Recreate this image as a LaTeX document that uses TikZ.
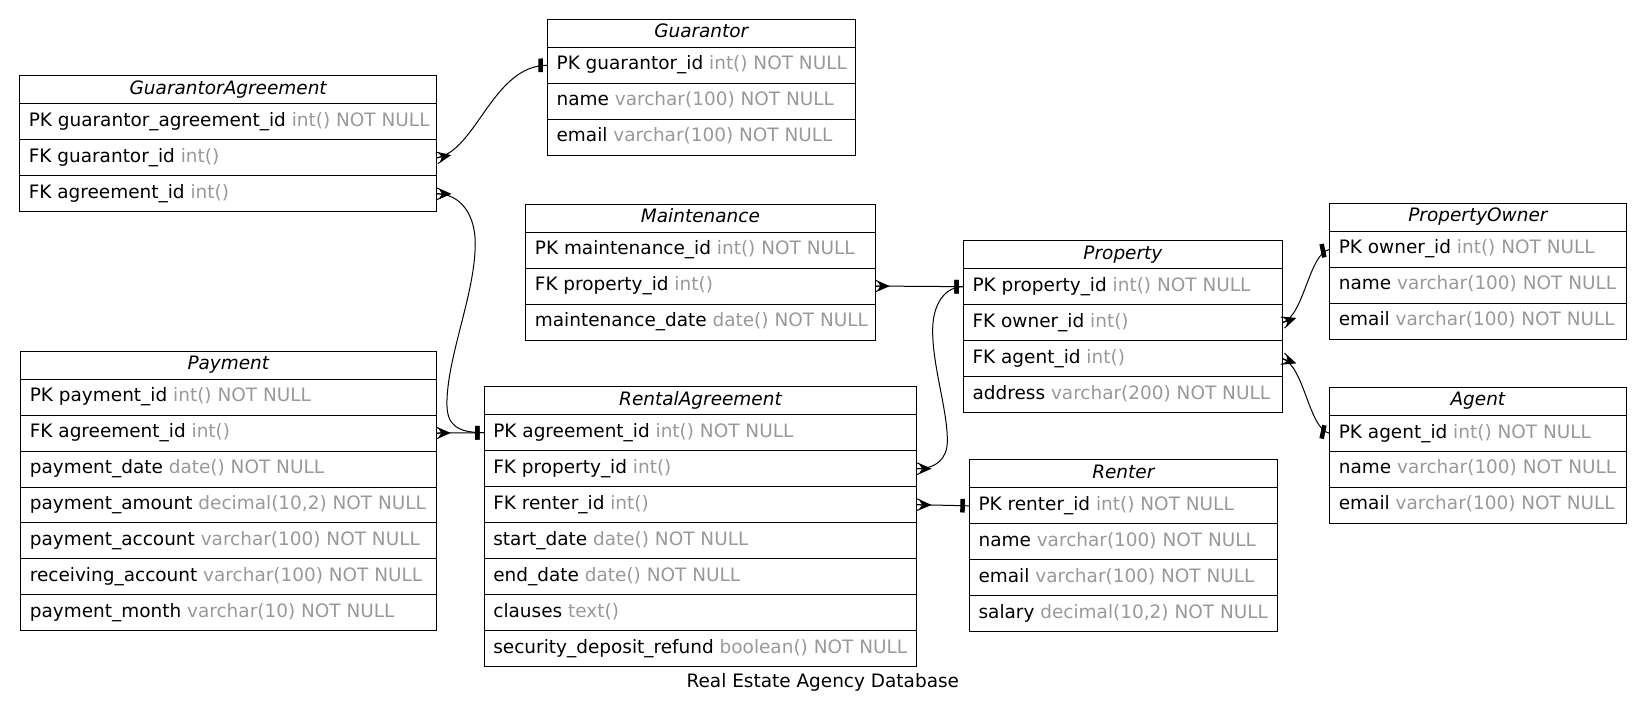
\documentclass[tikz,border=0pt]{standalone}
\usepackage{fontspec}
\setmainfont{DejaVu Sans}
\usetikzlibrary{decorations.markings}
\definecolor{typegray}{RGB}{153,153,153}
\newcommand{\U}{0.7869}
\newcommand{\tg}[1]{\textcolor{typegray}{#1}}
\newcommand{\ehead}[5]{%
  \node[cellbox, minimum width=#4*\U pt, minimum height=26.7*\U pt] (#1) at ({#2+#4/2},{#3+13.35}) {};
  \node[headtext] (#1-t) at ({#2+#4/2},{#3+17.5}) {#5};
}
\newcommand{\erow}[6]{%
  \node[cellbox, minimum width=#4*\U pt, minimum height=34.3*\U pt] (#1) at ({#2+#4/2},{#3+26.7+34.3*(#5-1)+17.15}) {};
  \node[rowtext] (#1-t) at ({#2+8.5},{#3+26.7+34.3*(#5-1)+21.6}) {#6};
}
\newcommand{\crowmark}{%
  \fill (12.7,0) -- (2,-4.5) -- (5,0) -- (2,4.5) -- cycle;
  \draw[line width=0.75pt] (0,-5.6) -- (12.7,0) -- (0,5.6) (0,0) -- (12.7,0);}
\newcommand{\teemark}{\fill (-8.5,-6.5) rectangle (-4.2,6.5);}
\tikzset{
  cellbox/.style={draw=black, line width=0.75pt, inner sep=0pt, outer sep=0pt, rectangle},
  headtext/.style={anchor=base, inner sep=0pt, font=\fontsize{13.85}{16}\selectfont\itshape},
  rowtext/.style={anchor=base west, inner sep=0pt, font=\fontsize{13.85}{16}\selectfont},
  titletext/.style={anchor=base, inner sep=0pt, font=\fontsize{13.85}{16}\selectfont},
  rel/.style={draw=black, line width=0.75pt,
    postaction={decorate, decoration={markings,
      mark=at position 0.1pt with {\crowmark},
      mark=at position -0.1pt with {\teemark}}}}
}
\begin{document}
\begin{tikzpicture}[x=0.7869pt, y=-0.7869pt]
\fill[white] (0,0) rectangle (1568,683);
\useasboundingbox (0,0) rectangle (1568,683);

% Guarantor
\ehead{gua}{521.8}{18.4}{293.3}{Guarantor}
\erow{gua1}{521.8}{18.4}{293.3}{1}{PK guarantor\_id \tg{int() NOT NULL}}
\erow{gua2}{521.8}{18.4}{293.3}{2}{name \tg{varchar(100) NOT NULL}}
\erow{gua3}{521.8}{18.4}{293.3}{3}{email \tg{varchar(100) NOT NULL}}

% GuarantorAgreement
\ehead{ga}{18.7}{72.3}{397.6}{GuarantorAgreement}
\erow{ga1}{18.7}{72.3}{397.6}{1}{PK guarantor\_agreement\_id \tg{int() NOT NULL}}
\erow{ga2}{18.7}{72.3}{397.6}{2}{FK guarantor\_id \tg{int()}}
\erow{ga3}{18.7}{72.3}{397.6}{3}{FK agreement\_id \tg{int()}}

% Maintenance
\ehead{mnt}{501.1}{194.5}{333}{Maintenance}
\erow{mnt1}{501.1}{194.5}{333}{1}{PK maintenance\_id \tg{int() NOT NULL}}
\erow{mnt2}{501.1}{194.5}{333}{2}{FK property\_id \tg{int()}}
\erow{mnt3}{501.1}{194.5}{333}{3}{maintenance\_date \tg{date() NOT NULL}}

% Property
\ehead{prop}{918.3}{229.4}{304.1}{Property}
\erow{prop1}{918.3}{229.4}{304.1}{1}{PK property\_id \tg{int() NOT NULL}}
\erow{prop2}{918.3}{229.4}{304.1}{2}{FK owner\_id \tg{int()}}
\erow{prop3}{918.3}{229.4}{304.1}{3}{FK agent\_id \tg{int()}}
\erow{prop4}{918.3}{229.4}{304.1}{4}{address \tg{varchar(200) NOT NULL}}

% PropertyOwner
\ehead{own}{1267.4}{193.8}{282.6}{PropertyOwner}
\erow{own1}{1267.4}{193.8}{282.6}{1}{PK owner\_id \tg{int() NOT NULL}}
\erow{own2}{1267.4}{193.8}{282.6}{2}{name \tg{varchar(100) NOT NULL}}
\erow{own3}{1267.4}{193.8}{282.6}{3}{email \tg{varchar(100) NOT NULL}}

% Agent
\ehead{agt}{1267.4}{369.2}{282.6}{Agent}
\erow{agt1}{1267.4}{369.2}{282.6}{1}{PK agent\_id \tg{int() NOT NULL}}
\erow{agt2}{1267.4}{369.2}{282.6}{2}{name \tg{varchar(100) NOT NULL}}
\erow{agt3}{1267.4}{369.2}{282.6}{3}{email \tg{varchar(100) NOT NULL}}

% Payment
\ehead{pay}{19.7}{334.6}{395.9}{Payment}
\erow{pay1}{19.7}{334.6}{395.9}{1}{PK payment\_id \tg{int() NOT NULL}}
\erow{pay2}{19.7}{334.6}{395.9}{2}{FK agreement\_id \tg{int()}}
\erow{pay3}{19.7}{334.6}{395.9}{3}{payment\_date \tg{date() NOT NULL}}
\erow{pay4}{19.7}{334.6}{395.9}{4}{payment\_amount \tg{decimal(10,2) NOT NULL}}
\erow{pay5}{19.7}{334.6}{395.9}{5}{payment\_account \tg{varchar(100) NOT NULL}}
\erow{pay6}{19.7}{334.6}{395.9}{6}{receiving\_account \tg{varchar(100) NOT NULL}}
\erow{pay7}{19.7}{334.6}{395.9}{7}{payment\_month \tg{varchar(10) NOT NULL}}

% RentalAgreement
\ehead{ra}{461.5}{368.6}{412.4}{RentalAgreement}
\erow{ra1}{461.5}{368.6}{412.4}{1}{PK agreement\_id \tg{int() NOT NULL}}
\erow{ra2}{461.5}{368.6}{412.4}{2}{FK property\_id \tg{int()}}
\erow{ra3}{461.5}{368.6}{412.4}{3}{FK renter\_id \tg{int()}}
\erow{ra4}{461.5}{368.6}{412.4}{4}{start\_date \tg{date() NOT NULL}}
\erow{ra5}{461.5}{368.6}{412.4}{5}{end\_date \tg{date() NOT NULL}}
\erow{ra6}{461.5}{368.6}{412.4}{6}{clauses \tg{text()}}
\erow{ra7}{461.5}{368.6}{412.4}{7}{security\_deposit\_refund \tg{boolean() NOT NULL}}

% Renter
\ehead{rnt}{924}{438.3}{293.5}{Renter}
\erow{rnt1}{924}{438.3}{293.5}{1}{PK renter\_id \tg{int() NOT NULL}}
\erow{rnt2}{924}{438.3}{293.5}{2}{name \tg{varchar(100) NOT NULL}}
\erow{rnt3}{924}{438.3}{293.5}{3}{email \tg{varchar(100) NOT NULL}}
\erow{rnt4}{924}{438.3}{293.5}{4}{salary \tg{decimal(10,2) NOT NULL}}

% Title
\node[titletext] (title) at (784.3,655.2) {Real Estate Agency Database};

% Relationships
\draw[rel] (ga2.east) .. controls +(38,-7) and +(-52,0) .. (gua1.west);
\draw[rel] (ga3.east) .. controls +(23,0) and (453,205) .. (453,232)
  .. controls (453,280) and (426,340) .. (426,385)
  .. controls (426,405) and +(-26,0) .. (ra1.west);
\draw[rel] (pay2.east) -- (ra1.west);
\draw[rel] (mnt2.east) -- (prop1.west);
\draw[rel] (ra2.east) .. controls +(18,0) and (903,438) .. (903,420)
  .. controls (903,390) and (889,350) .. (889,315)
  .. controls (889,290) and +(-18,0) .. (prop1.west);
\draw[rel] (ra3.east) -- (rnt1.west);
\draw[rel] (prop2.east) .. controls +(21,-7) and +(-20,4) .. (own1.west);
\draw[rel] (prop3.east) .. controls +(21,7) and +(-20,-4) .. (agt1.west);
\end{tikzpicture}
\end{document}
